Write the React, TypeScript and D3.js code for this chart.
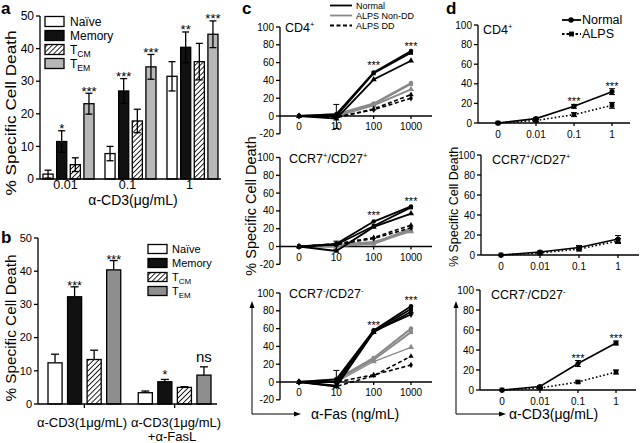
import React from 'react';
import * as d3 from 'd3';

const FONT = '"Liberation Sans", Arial, Helvetica, sans-serif';

// ---------- Panel a data ----------
const aDoses = ['0.01', '0.1', '1'];
const subsets = ['Naïve', 'Memory', 'TCM', 'TEM'];
const aNaive = [1.5, 7.8, 31.5];
const aNaiveErr = [1.2, 2.2, 4.5];
const aMemory = [11.5, 27.0, 40.4];
const aMemoryErr = [3.3, 3.8, 4.7];
const aTcm = [4.4, 17.8, 36.0];
const aTcmErr = [2.1, 3.6, 5.6];
const aTem = [23.1, 34.4, 44.4];
const aTemErr = [3.2, 3.8, 4.1];
const aStars = [
  ['', '*', '', '***'],
  ['', '***', '', '***'],
  ['', '**', '', '***'],
];

// ---------- Panel b data ----------
const bGroups = ['g1', 'g2'];
const bNaive = [12.4, 3.4];
const bNaiveErr = [2.6, 0.5];
const bMemory = [32.3, 6.7];
const bMemoryErr = [3.0, 0.7];
const bTcm = [13.4, 5.0];
const bTcmErr = [2.8, 0.2];
const bTem = [40.4, 8.7];
const bTemErr = [2.8, 2.5];
const bStars = [
  ['', '***', '', '***'],
  ['', '*', '', 'ns'],
];

// ---------- Panel c data (α-Fas) ----------
const cDoses = ['0', '10', '100', '1000'];
const cCd4Normal = [[0, 2, 49, 73], [0, 0, 48, 71], [0, -3, 41, 62]];
const cCd4NonDD = [[0, 2, 14, 37], [0, 1, 13, 36], [0, 0, 12, 30]];
const cCd4DD = [[0, -2, 8, 24], [0, -1, 7, 20]];
const cR7pNormal = [[0, 3, 28, 45], [0, 2, 23, 44], [0, -5, 22, 37]];
const cR7pNonDD = [[0, 0, 4, 20], [0, 1, 3, 18], [0, 2, 5, 17]];
const cR7pDD = [[0, 3, 10, 24], [0, 2, 9, 21]];
const cR7nNormal = [[0, 3, 58, 85], [0, 0, 57, 82], [0, -5, 56, 79], [0, -4, 57, 76]];
const cR7nNonDD = [[0, 3, 27, 60], [0, 2, 25, 56], [0, 0, 23, 39]];
const cR7nDD = [[0, -5, 7, 29], [0, 0, 8, 19]];
const cErrHi = [13, 6, 13];
const cErrLo = [-14, -3, -6];
const cStarVals = [[61, 82], [39, 55], [67, 95]];
const cYTicks = [-20, 0, 20, 40, 60, 80, 100];

// ---------- Panel d data (α-CD3) ----------
const dDoses = ['0', '0.01', '0.1', '1'];
const dCd4Normal = [0, 4.5, 17, 32];
const dCd4NormalErr = [0.8, 1.2, 2, 3];
const dCd4Alps = [0, 2.5, 8.5, 18];
const dCd4AlpsErr = [0.5, 1, 2, 3];
const dR7pNormal = [0, 3, 7.5, 16];
const dR7pNormalErr = [0.5, 1, 2, 3.5];
const dR7pAlps = [0, 2, 6, 14];
const dR7pAlpsErr = [0.5, 1, 2, 2.5];
const dR7nNormal = [0, 3.5, 26.5, 47];
const dR7nNormalErr = [0.5, 1, 3, 2];
const dR7nAlps = [0, 2, 8, 18];
const dR7nAlpsErr = [0.5, 0.5, 1, 2];
const dStars = [['', '', '***', '***'], ['', '', '', ''], ['', '', '***', '***']];
const dYTicks = [0, 20, 40, 60, 80, 100];

const SW = 1.3;

function YAxis({ scale, x, ticks, fontSize, tickLen = 4 }: any) {
  return (
    <g>
      <line x1={x} x2={x} y1={scale(ticks[0])} y2={scale(ticks[ticks.length - 1])} stroke="#000" strokeWidth={SW} />
      {ticks.map((t: number) => (
        <g key={t}>
          <line x1={x - tickLen} x2={x} y1={scale(t)} y2={scale(t)} stroke="#000" strokeWidth={SW} />
          <text x={x - tickLen - 2} y={scale(t)} dy="0.35em" textAnchor="end" fontSize={fontSize}>{t}</text>
        </g>
      ))}
    </g>
  );
}

function SubLabel({ name }: { name: string }) {
  if (name === 'TCM') return <>T<tspan fontSize="0.72em" dy="3">CM</tspan></>;
  if (name === 'TEM') return <>T<tspan fontSize="0.72em" dy="3">EM</tspan></>;
  return <>{name}</>;
}

function Title({ x, y, base, sign, fs }: any) {
  if (base === 'CD4') {
    return (
      <text x={x} y={y} fontSize={fs}>CD4<tspan fontSize={fs * 0.6} dy={-fs * 0.4}>{sign}</tspan></text>
    );
  }
  return (
    <text x={x} y={y} fontSize={fs}>
      CCR7<tspan fontSize={fs * 0.6} dy={-fs * 0.4}>{sign}</tspan>
      <tspan dy={fs * 0.4}>/CD27</tspan>
      <tspan fontSize={fs * 0.6} dy={-fs * 0.4}>{sign}</tspan>
    </text>
  );
}

function fillFor(i: number, temColor: string) {
  return ['#fff', '#111', 'url(#hatch)', temColor][i];
}

function PanelA() {
  const y = d3.scaleLinear().domain([0, 50]).range([179, 16]);
  const x0 = d3.scaleBand().domain(aDoses).range([43, 218]).paddingInner(0.177).paddingOuter(0);
  const x1 = d3.scaleBand().domain(subsets).range([0, x0.bandwidth()]).paddingInner(0.26);
  const vals = [aNaive, aMemory, aTcm, aTem];
  const errs = [aNaiveErr, aMemoryErr, aTcmErr, aTemErr];
  return (
    <g>
      <text x={1} y={14} fontSize={17} fontWeight="bold">a</text>
      {aDoses.map((dose, gi) => (
        <g key={dose}>
          {subsets.map((s, si) => {
            const v = vals[si][gi];
            const e = errs[si][gi];
            const bx = (x0(dose) as number) + (x1(s) as number);
            const bw = x1.bandwidth();
            const cx = bx + bw / 2;
            return (
              <g key={s}>
                <rect x={bx} y={y(v)} width={bw} height={y(0) - y(v)} fill={fillFor(si, '#b8b8b8')} stroke="#000" strokeWidth={SW} />
                <line x1={cx} x2={cx} y1={y(v + e)} y2={y(Math.max(0, v - e))} stroke="#000" strokeWidth={SW} />
                <line x1={cx - 3.5} x2={cx + 3.5} y1={y(v + e)} y2={y(v + e)} stroke="#000" strokeWidth={SW} />
                <line x1={cx - 3.5} x2={cx + 3.5} y1={y(Math.max(0, v - e))} y2={y(Math.max(0, v - e))} stroke="#000" strokeWidth={SW} />
                {aStars[gi][si] && (
                  <text x={cx} y={y(v + e) + 2.5} textAnchor="middle" fontSize={13}>{aStars[gi][si]}</text>
                )}
              </g>
            );
          })}
          <text x={(x0(dose) as number) + x0.bandwidth() * 0.44} y={189} textAnchor="middle" fontSize={12.5}>{dose}</text>
        </g>
      ))}
      <line x1={40} x2={221} y1={179} y2={179} stroke="#000" strokeWidth={SW} />
      <YAxis scale={y} x={40} ticks={[0, 10, 20, 30, 40, 50]} fontSize={12} />
      <text transform="translate(16,113) rotate(-90)" textAnchor="middle" fontSize={15} textLength={165} lengthAdjust="spacingAndGlyphs">% Specific Cell Death</text>
      <text x={133} y={205} textAnchor="middle" fontSize={14}>α-CD3(μg/mL)</text>
      {subsets.map((s, i) => (
        <g key={s}>
          <rect x={45} y={16.5 + i * 14} width={19} height={10} fill={fillFor(i, '#b8b8b8')} stroke="#000" strokeWidth={SW} />
          <text x={70} y={21.5 + i * 14} dy="0.35em" fontSize={12}><SubLabel name={s} /></text>
        </g>
      ))}
    </g>
  );
}

function PanelB() {
  const y = d3.scaleLinear().domain([0, 50]).range([404, 238]);
  const x0 = d3.scaleBand().domain(bGroups).range([48, 211]).paddingInner(0.194).paddingOuter(0);
  const x1 = d3.scaleBand().domain(subsets).range([0, x0.bandwidth()]).paddingInner(0.28);
  const vals = [bNaive, bMemory, bTcm, bTem];
  const errs = [bNaiveErr, bMemoryErr, bTcmErr, bTemErr];
  return (
    <g>
      <text x={1} y={243} fontSize={17} fontWeight="bold">b</text>
      {bGroups.map((g, gi) => (
        <g key={g}>
          {subsets.map((s, si) => {
            const v = vals[si][gi];
            const e = errs[si][gi];
            const bx = (x0(g) as number) + (x1(s) as number);
            const bw = x1.bandwidth();
            const cx = bx + bw / 2;
            const st = bStars[gi][si];
            return (
              <g key={s}>
                <line x1={cx} x2={cx} y1={y(v + e)} y2={y(v)} stroke="#000" strokeWidth={SW} />
                <line x1={cx - 4} x2={cx + 4} y1={y(v + e)} y2={y(v + e)} stroke="#000" strokeWidth={SW} />
                <rect x={bx} y={y(v)} width={bw} height={y(0) - y(v)} fill={fillFor(si, '#8e8e8e')} stroke="#000" strokeWidth={SW} />
                {st && (
                  st === 'ns'
                    ? <text x={cx} y={y(v + e) - 5} textAnchor="middle" fontSize={15}>ns</text>
                    : <text x={cx} y={y(v + e) + (st === '*' ? 0 : 3)} textAnchor="middle" fontSize={12.5}>{st}</text>
                )}
              </g>
            );
          })}
          <line x1={(x0(g) as number) + x0.bandwidth() / 2} x2={(x0(g) as number) + x0.bandwidth() / 2} y1={404} y2={408} stroke="#000" strokeWidth={SW} />
        </g>
      ))}
      <line x1={38} x2={217} y1={404} y2={404} stroke="#000" strokeWidth={SW} />
      <YAxis scale={y} x={38} ticks={[0, 10, 20, 30, 40, 50]} fontSize={11} />
      <text transform="translate(16,328) rotate(-90)" textAnchor="middle" fontSize={14} textLength={147} lengthAdjust="spacingAndGlyphs">% Specific Cell Death</text>
      <text x={82} y={427} textAnchor="middle" fontSize={13}>α-CD3(1μg/mL)</text>
      <text x={176} y={427} textAnchor="middle" fontSize={13}>α-CD3(1μg/mL)</text>
      <text x={172} y={441} textAnchor="middle" fontSize={13}>+α-FasL</text>
      {subsets.map((s, i) => (
        <g key={s}>
          <rect x={148} y={244.5 + i * 14} width={19} height={9} fill={fillFor(i, '#8e8e8e')} stroke="#000" strokeWidth={SW} />
          <text x={172} y={249 + i * 14} dy="0.35em" fontSize={11}><SubLabel name={s} /></text>
        </g>
      ))}
    </g>
  );
}

const symTypes = [d3.symbolCircle, d3.symbolSquare, d3.symbolTriangle, d3.symbolDiamond];

function CSub({ top, normal, nonDD, dd, idx, base, sign }: any) {
  const y0 = top + 89; // y of value 0
  const y = d3.scaleLinear().domain([0, 100]).range([y0, top]);
  const x = d3.scalePoint().domain(cDoses).range([299, 411]);
  const line = d3.line<number>().x((_, i) => x(cDoses[i]) as number).y((v) => y(v));
  const sym = (t: any, s: number) => d3.symbol().type(t).size(s)() as string;
  const ex = x('10') as number;
  return (
    <g>
      <line x1={280} x2={432} y1={y(0)} y2={y(0)} stroke="#000" strokeWidth={SW} />
      {cDoses.map((dd2) => (
        <g key={dd2}>
          <line x1={x(dd2)} x2={x(dd2)} y1={y(0)} y2={y(0) + 3} stroke="#000" strokeWidth={SW} />
          <text x={x(dd2)} y={y(0) + 14} textAnchor="middle" fontSize={10}>{dd2}</text>
        </g>
      ))}
      <YAxis scale={y} x={280} ticks={cYTicks} fontSize={10} />
      {nonDD.map((s: number[], i: number) => (
        <g key={'g' + i}>
          <path d={line(s) as string} fill="none" stroke="#8a8a8a" strokeWidth={i === 2 && sign === '-' ? 1.3 : 2} />
          {s.map((v, j) => (
            <path key={j} d={sym(symTypes[i], 16)} transform={`translate(${x(cDoses[j])},${y(v)})`} fill="#8a8a8a" />
          ))}
        </g>
      ))}
      {dd.map((s: number[], i: number) => (
        <g key={'d' + i}>
          <path d={line(s) as string} fill="none" stroke="#000" strokeWidth={1.6} strokeDasharray="4,2.5" />
          {s.map((v, j) => (
            <path key={j} d={sym(symTypes[(i + 2) % 4], 12)} transform={`translate(${x(cDoses[j])},${y(v)})`} fill="#000" />
          ))}
        </g>
      ))}
      {normal.map((s: number[], i: number) => (
        <g key={'n' + i}>
          <path d={line(s) as string} fill="none" stroke="#000" strokeWidth={1.8} />
          {s.map((v, j) => (
            <path key={j} d={sym(symTypes[i % 4], 16)} transform={`translate(${x(cDoses[j])},${y(v)})`} fill="#000" />
          ))}
        </g>
      ))}
      <line x1={ex} x2={ex} y1={y(cErrLo[idx])} y2={y(cErrHi[idx])} stroke="#000" strokeWidth={1} />
      <line x1={ex - 3} x2={ex + 3} y1={y(cErrLo[idx])} y2={y(cErrLo[idx])} stroke="#000" strokeWidth={1} />
      <line x1={ex - 3} x2={ex + 3} y1={y(cErrHi[idx])} y2={y(cErrHi[idx])} stroke="#000" strokeWidth={1} />
      {cStarVals[idx].map((v: number, k: number) => (
        <text key={k} x={x(cDoses[k + 2])} y={y(v) + 7} textAnchor="middle" fontSize={11}>***</text>
      ))}
      <Title x={idx === 0 ? 285 : 289} y={top + 5} base={base} sign={sign} fs={12.5} />
    </g>
  );
}

function PanelC() {
  return (
    <g>
      <text x={242} y={14} fontSize={17} fontWeight="bold">c</text>
      <CSub top={27} normal={cCd4Normal} nonDD={cCd4NonDD} dd={cCd4DD} idx={0} base="CD4" sign="+" />
      <CSub top={157.5} normal={cR7pNormal} nonDD={cR7pNonDD} dd={cR7pDD} idx={1} base="CCR7" sign="+" />
      <CSub top={293} normal={cR7nNormal} nonDD={cR7nNonDD} dd={cR7nDD} idx={2} base="CCR7" sign="-" />
      <text transform="translate(256,206) rotate(-90)" textAnchor="middle" fontSize={14.5}>% Specific Cell Death</text>
      {/* legend */}
      <line x1={330} x2={352} y1={5.5} y2={5.5} stroke="#000" strokeWidth={1.8} />
      <text x={356} y={5.5} dy="0.35em" fontSize={9}>Normal</text>
      <line x1={330} x2={352} y1={15.5} y2={15.5} stroke="#8a8a8a" strokeWidth={1.8} />
      <text x={356} y={15.5} dy="0.35em" fontSize={9}>ALPS Non-DD</text>
      <line x1={330} x2={352} y1={25.5} y2={25.5} stroke="#000" strokeWidth={1.8} strokeDasharray="4,2.5" />
      <text x={356} y={25.5} dy="0.35em" fontSize={9}>ALPS DD</text>
      {/* arrows */}
      <line x1={252} x2={252} y1={414} y2={305} stroke="#000" strokeWidth={1} />
      <path d="M252,301 L249.5,308 L254.5,308 Z" fill="#000" />
      <line x1={252} x2={297} y1={414} y2={414} stroke="#000" strokeWidth={1} />
      <path d="M301,414 L294,411.5 L294,416.5 Z" fill="#000" />
      <text x={311} y={419} fontSize={14}>α-Fas (ng/mL)</text>
    </g>
  );
}

function DSub({ top, zeroY, axisX, range, axisEnd, normal, normalErr, alps, alpsErr, idx, base, sign, titleX }: any) {
  const y = d3.scaleLinear().domain([0, 100]).range([zeroY, top]);
  const x = d3.scalePoint().domain(dDoses).range(range);
  const line = d3.line<number>().x((_, i) => x(dDoses[i]) as number).y((v) => y(v));
  const circ = d3.symbol().type(d3.symbolCircle).size(20)() as string;
  const sq = d3.symbol().type(d3.symbolSquare).size(22)() as string;
  const err = (vals: number[], errs: number[], key: string) =>
    vals.map((v, i) => {
      const cx = x(dDoses[i]) as number;
      return (
        <g key={key + i}>
          <line x1={cx} x2={cx} y1={y(v - errs[i])} y2={y(v + errs[i])} stroke="#000" strokeWidth={1} />
          <line x1={cx - 3} x2={cx + 3} y1={y(v - errs[i])} y2={y(v - errs[i])} stroke="#000" strokeWidth={1} />
          <line x1={cx - 3} x2={cx + 3} y1={y(v + errs[i])} y2={y(v + errs[i])} stroke="#000" strokeWidth={1} />
        </g>
      );
    });
  return (
    <g>
      <line x1={axisX} x2={axisEnd} y1={y(0)} y2={y(0)} stroke="#000" strokeWidth={SW} />
      {dDoses.map((d) => (
        <g key={d}>
          <line x1={x(d)} x2={x(d)} y1={y(0)} y2={y(0) + 3} stroke="#000" strokeWidth={SW} />
          <text x={x(d)} y={y(0) + 15} textAnchor="middle" fontSize={10}>{d}</text>
        </g>
      ))}
      <YAxis scale={y} x={axisX} ticks={dYTicks} fontSize={10} />
      <path d={line(alps) as string} fill="none" stroke="#000" strokeWidth={1.6} strokeDasharray="1.6,2.2" />
      {err(alps, alpsErr, 'a')}
      {alps.map((v: number, i: number) => (
        <path key={'as' + i} d={sq} transform={`translate(${x(dDoses[i])},${y(v)})`} fill="#000" />
      ))}
      <path d={line(normal) as string} fill="none" stroke="#000" strokeWidth={1.6} />
      {err(normal, normalErr, 'n')}
      {normal.map((v: number, i: number) => (
        <path key={'ns' + i} d={circ} transform={`translate(${x(dDoses[i])},${y(v)})`} fill="#000" />
      ))}
      {dStars[idx].map((s: string, i: number) => s && (
        <text key={'st' + i} x={x(dDoses[i])} y={y(normal[i] + normalErr[i]) + 1} textAnchor="middle" fontSize={11}>{s}</text>
      ))}
      <Title x={titleX} y={top + 9} base={base} sign={sign} fs={12.5} />
    </g>
  );
}

function PanelD() {
  const circ = d3.symbol().type(d3.symbolCircle).size(22)() as string;
  const sq = d3.symbol().type(d3.symbolSquare).size(24)() as string;
  return (
    <g>
      <text x={446} y={14} fontSize={17} fontWeight="bold">d</text>
      <DSub top={25} zeroY={123} axisX={478} range={[498, 612]} axisEnd={630} normal={dCd4Normal} normalErr={dCd4NormalErr} alps={dCd4Alps} alpsErr={dCd4AlpsErr} idx={0} base="CD4" sign="+" titleX={483} />
      <DSub top={155} zeroY={255} axisX={481} range={[501, 618]} axisEnd={639} normal={dR7pNormal} normalErr={dR7pNormalErr} alps={dR7pAlps} alpsErr={dR7pAlpsErr} idx={1} base="CCR7" sign="+" titleX={492} />
      <DSub top={290} zeroY={390} axisX={480} range={[502, 616]} axisEnd={636} normal={dR7nNormal} normalErr={dR7nNormalErr} alps={dR7nAlps} alpsErr={dR7nAlpsErr} idx={2} base="CCR7" sign="-" titleX={491} />
      <text transform="translate(458,207) rotate(-90)" textAnchor="middle" fontSize={12.5}>% Specific Cell Death</text>
      {/* legend */}
      <line x1={562} x2={581} y1={20} y2={20} stroke="#000" strokeWidth={1.8} />
      <path d={circ} transform="translate(571,20)" fill="#000" />
      <text x={582} y={20} dy="0.35em" fontSize={12.5}>Normal</text>
      <line x1={562} x2={581} y1={34} y2={34} stroke="#000" strokeWidth={1.8} strokeDasharray="2.5,2" />
      <path d={sq} transform="translate(571.5,34)" fill="#000" />
      <text x={582} y={34} dy="0.35em" fontSize={12.5}>ALPS</text>
      {/* arrows */}
      <line x1={456} x2={456} y1={414} y2={305} stroke="#000" strokeWidth={1} />
      <path d="M456,301 L453.5,308 L458.5,308 Z" fill="#000" />
      <line x1={456} x2={502} y1={414} y2={414} stroke="#000" strokeWidth={1} />
      <path d="M506,414 L499,411.5 L499,416.5 Z" fill="#000" />
      <text x={509} y={419} fontSize={14}>α-CD3(μg/mL)</text>
    </g>
  );
}

export default function App() {
  return (
    <svg width={640} height={443} viewBox="0 0 640 443" style={{ position: 'fixed', left: 0, top: 0, background: '#fff' }} fontFamily={FONT}>
      <defs>
        <pattern id="hatch" patternUnits="userSpaceOnUse" width="3.6" height="3.6" patternTransform="rotate(45)">
          <rect width="3.6" height="3.6" fill="#fff" />
          <line x1="0" y1="0" x2="0" y2="3.6" stroke="#000" strokeWidth="1.7" />
        </pattern>
      </defs>
      <rect width={640} height={443} fill="#fff" />
      <PanelA />
      <PanelB />
      <PanelC />
      <PanelD />
    </svg>
  );
}
